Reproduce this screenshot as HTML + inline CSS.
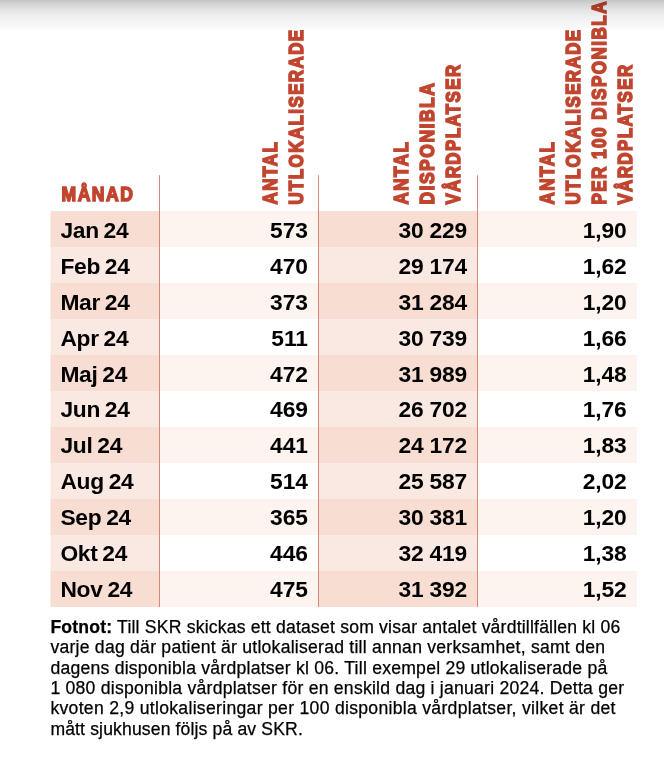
<!DOCTYPE html>
<html lang="sv">
<head>
<meta charset="utf-8">
<title>Utlokaliserade och disponibla vårdplatser 2024</title>
<style>
html,body{margin:0;padding:0;background:#fff;}
body{width:664px;height:762px;position:relative;overflow:hidden;font-family:"Liberation Sans",Arial,sans-serif;color:#000;}
.shade{position:absolute;z-index:5;mix-blend-mode:multiply;left:0;top:0;width:664px;height:30px;background:linear-gradient(to bottom,#c5c5c5 0px,#d6d6d6 5px,#e3e3e3 10px,#eeeeee 16px,#f5f5f5 22px,#fafafa 28.3px,#ffffff 29px);}
.bg{position:absolute;}
.vl{position:absolute;width:1px;background:linear-gradient(to bottom,#e9b9af 0px,#d68778 1px,#d68778 100%);}
.hdsvg{position:absolute;left:0;top:0;overflow:visible;}
.cell{position:absolute;font-weight:bold;font-size:22.8px;line-height:36px;white-space:nowrap;}
.num{text-align:right;}
.foot{position:absolute;-webkit-text-stroke:0.25px #000;left:50.4px;font-size:17.6px;line-height:20px;white-space:nowrap;}
</style>
</head>
<body>
<div class="shade"></div>
<div class="bg" style="left:50.50px;top:211px;width:109.00px;height:36px;background:#f7ddd2"></div>
<div class="bg" style="left:50px;top:211px;width:1px;height:36px;background:#fbeee9"></div>
<div class="bg" style="left:159.50px;top:211px;width:159.00px;height:36px;background:#fdf4ef"></div>
<div class="bg" style="left:318.50px;top:211px;width:159.00px;height:36px;background:#f7ddd2"></div>
<div class="bg" style="left:477.50px;top:211px;width:159.30px;height:36px;background:#fdf4ef"></div>
<div class="bg" style="left:50.50px;top:247px;width:109.00px;height:36px;background:#fae9e2"></div>
<div class="bg" style="left:50px;top:247px;width:1px;height:36px;background:#fdf4f1"></div>
<div class="bg" style="left:318.50px;top:247px;width:159.00px;height:36px;background:#fae9e2"></div>
<div class="bg" style="left:50.50px;top:283px;width:109.00px;height:36px;background:#f7ddd2"></div>
<div class="bg" style="left:50px;top:283px;width:1px;height:36px;background:#fbeee9"></div>
<div class="bg" style="left:159.50px;top:283px;width:159.00px;height:36px;background:#fdf4ef"></div>
<div class="bg" style="left:318.50px;top:283px;width:159.00px;height:36px;background:#f7ddd2"></div>
<div class="bg" style="left:477.50px;top:283px;width:159.30px;height:36px;background:#fdf4ef"></div>
<div class="bg" style="left:50.50px;top:319px;width:109.00px;height:36px;background:#fae9e2"></div>
<div class="bg" style="left:50px;top:319px;width:1px;height:36px;background:#fdf4f1"></div>
<div class="bg" style="left:318.50px;top:319px;width:159.00px;height:36px;background:#fae9e2"></div>
<div class="bg" style="left:50.50px;top:355px;width:109.00px;height:36px;background:#f7ddd2"></div>
<div class="bg" style="left:50px;top:355px;width:1px;height:36px;background:#fbeee9"></div>
<div class="bg" style="left:159.50px;top:355px;width:159.00px;height:36px;background:#fdf4ef"></div>
<div class="bg" style="left:318.50px;top:355px;width:159.00px;height:36px;background:#f7ddd2"></div>
<div class="bg" style="left:477.50px;top:355px;width:159.30px;height:36px;background:#fdf4ef"></div>
<div class="bg" style="left:50.50px;top:391px;width:109.00px;height:36px;background:#fae9e2"></div>
<div class="bg" style="left:50px;top:391px;width:1px;height:36px;background:#fdf4f1"></div>
<div class="bg" style="left:318.50px;top:391px;width:159.00px;height:36px;background:#fae9e2"></div>
<div class="bg" style="left:50.50px;top:427px;width:109.00px;height:36px;background:#f7ddd2"></div>
<div class="bg" style="left:50px;top:427px;width:1px;height:36px;background:#fbeee9"></div>
<div class="bg" style="left:159.50px;top:427px;width:159.00px;height:36px;background:#fdf4ef"></div>
<div class="bg" style="left:318.50px;top:427px;width:159.00px;height:36px;background:#f7ddd2"></div>
<div class="bg" style="left:477.50px;top:427px;width:159.30px;height:36px;background:#fdf4ef"></div>
<div class="bg" style="left:50.50px;top:463px;width:109.00px;height:36px;background:#fae9e2"></div>
<div class="bg" style="left:50px;top:463px;width:1px;height:36px;background:#fdf4f1"></div>
<div class="bg" style="left:318.50px;top:463px;width:159.00px;height:36px;background:#fae9e2"></div>
<div class="bg" style="left:50.50px;top:499px;width:109.00px;height:36px;background:#f7ddd2"></div>
<div class="bg" style="left:50px;top:499px;width:1px;height:36px;background:#fbeee9"></div>
<div class="bg" style="left:159.50px;top:499px;width:159.00px;height:36px;background:#fdf4ef"></div>
<div class="bg" style="left:318.50px;top:499px;width:159.00px;height:36px;background:#f7ddd2"></div>
<div class="bg" style="left:477.50px;top:499px;width:159.30px;height:36px;background:#fdf4ef"></div>
<div class="bg" style="left:50.50px;top:535px;width:109.00px;height:36px;background:#fae9e2"></div>
<div class="bg" style="left:50px;top:535px;width:1px;height:36px;background:#fdf4f1"></div>
<div class="bg" style="left:318.50px;top:535px;width:159.00px;height:36px;background:#fae9e2"></div>
<div class="bg" style="left:50.50px;top:571px;width:109.00px;height:36px;background:#f7ddd2"></div>
<div class="bg" style="left:50px;top:571px;width:1px;height:36px;background:#fbeee9"></div>
<div class="bg" style="left:159.50px;top:571px;width:159.00px;height:36px;background:#fdf4ef"></div>
<div class="bg" style="left:318.50px;top:571px;width:159.00px;height:36px;background:#f7ddd2"></div>
<div class="bg" style="left:477.50px;top:571px;width:159.30px;height:36px;background:#fdf4ef"></div>
<div class="vl" style="left:159px;top:175px;height:431.55px"></div>
<div class="vl" style="left:318px;top:175px;height:431.55px"></div>
<div class="vl" style="left:477px;top:175px;height:431.55px"></div>
<svg class="hdsvg" width="664" height="212" viewBox="0 0 664 212">
<g font-family="Liberation Sans, Arial, sans-serif" font-weight="bold" font-size="19.50" fill="#c1452f" stroke="#c1452f" stroke-width="1.55" stroke-linejoin="miter">
<text transform="translate(61.50 200.75) scale(0.9000 1)" letter-spacing="1.70">MÅNAD</text>
<text transform="translate(277.20 204.60) rotate(-90) scale(0.8761 1)" letter-spacing="1.70">ANTAL</text>
<text transform="translate(303.20 204.60) rotate(-90) scale(0.8658 1)" letter-spacing="1.70">UTLOKALISERADE</text>
<text transform="translate(408.00 204.60) rotate(-90) scale(0.8761 1)" letter-spacing="1.70">ANTAL</text>
<text transform="translate(434.00 204.60) rotate(-90) scale(0.8968 1)" letter-spacing="1.70">DISPONIBLA</text>
<text transform="translate(460.30 204.60) rotate(-90) scale(0.8639 1)" letter-spacing="1.70">VÅRDPLATSER</text>
<text transform="translate(553.80 204.60) rotate(-90) scale(0.8761 1)" letter-spacing="1.70">ANTAL</text>
<text transform="translate(580.00 204.60) rotate(-90) scale(0.8658 1)" letter-spacing="1.70">UTLOKALISERADE</text>
<text transform="translate(606.40 204.60) rotate(-90) scale(0.8740 1)" letter-spacing="1.70">PER 100 DISPONIBLA</text>
<text transform="translate(632.30 204.60) rotate(-90) scale(0.8639 1)" letter-spacing="1.70">VÅRDPLATSER</text>
</g>
</svg>
<div class="cell" style="left:60.4px;top:212.00px;word-spacing:-1.2px;letter-spacing:-0.3px">Jan 24</div>
<div class="cell num" style="right:356.20px;top:212.00px;letter-spacing:-0.10px">573</div>
<div class="cell num" style="right:197.00px;top:212.00px;letter-spacing:-0.20px">30 229</div>
<div class="cell num" style="right:37.30px;top:212.00px;letter-spacing:-0.10px">1,90</div>
<div class="cell" style="left:60.4px;top:248.00px;word-spacing:-1.2px;letter-spacing:-0.3px">Feb 24</div>
<div class="cell num" style="right:356.20px;top:248.00px;letter-spacing:-0.10px">470</div>
<div class="cell num" style="right:197.00px;top:248.00px;letter-spacing:-0.20px">29 174</div>
<div class="cell num" style="right:37.30px;top:248.00px;letter-spacing:-0.10px">1,62</div>
<div class="cell" style="left:60.4px;top:284.00px;word-spacing:-1.2px;letter-spacing:-0.3px">Mar 24</div>
<div class="cell num" style="right:356.20px;top:284.00px;letter-spacing:-0.10px">373</div>
<div class="cell num" style="right:197.00px;top:284.00px;letter-spacing:-0.20px">31 284</div>
<div class="cell num" style="right:37.30px;top:284.00px;letter-spacing:-0.10px">1,20</div>
<div class="cell" style="left:60.4px;top:320.00px;word-spacing:-1.2px;letter-spacing:-0.3px">Apr 24</div>
<div class="cell num" style="right:356.20px;top:320.00px;letter-spacing:-0.10px">511</div>
<div class="cell num" style="right:197.00px;top:320.00px;letter-spacing:-0.20px">30 739</div>
<div class="cell num" style="right:37.30px;top:320.00px;letter-spacing:-0.10px">1,66</div>
<div class="cell" style="left:60.4px;top:356.00px;word-spacing:-1.2px;letter-spacing:-0.3px">Maj 24</div>
<div class="cell num" style="right:356.20px;top:356.00px;letter-spacing:-0.10px">472</div>
<div class="cell num" style="right:197.00px;top:356.00px;letter-spacing:-0.20px">31 989</div>
<div class="cell num" style="right:37.30px;top:356.00px;letter-spacing:-0.10px">1,48</div>
<div class="cell" style="left:60.4px;top:391.00px;word-spacing:-1.2px;letter-spacing:-0.3px">Jun 24</div>
<div class="cell num" style="right:356.20px;top:391.00px;letter-spacing:-0.10px">469</div>
<div class="cell num" style="right:197.00px;top:391.00px;letter-spacing:-0.20px">26 702</div>
<div class="cell num" style="right:37.30px;top:391.00px;letter-spacing:-0.10px">1,76</div>
<div class="cell" style="left:60.4px;top:427.00px;word-spacing:-1.2px;letter-spacing:-0.3px">Jul 24</div>
<div class="cell num" style="right:356.20px;top:427.00px;letter-spacing:-0.10px">441</div>
<div class="cell num" style="right:197.00px;top:427.00px;letter-spacing:-0.20px">24 172</div>
<div class="cell num" style="right:37.30px;top:427.00px;letter-spacing:-0.10px">1,83</div>
<div class="cell" style="left:60.4px;top:463.00px;word-spacing:-1.2px;letter-spacing:-0.3px">Aug 24</div>
<div class="cell num" style="right:356.20px;top:463.00px;letter-spacing:-0.10px">514</div>
<div class="cell num" style="right:197.00px;top:463.00px;letter-spacing:-0.20px">25 587</div>
<div class="cell num" style="right:37.30px;top:463.00px;letter-spacing:-0.10px">2,02</div>
<div class="cell" style="left:60.4px;top:499.00px;word-spacing:-1.2px;letter-spacing:-0.3px">Sep 24</div>
<div class="cell num" style="right:356.20px;top:499.00px;letter-spacing:-0.10px">365</div>
<div class="cell num" style="right:197.00px;top:499.00px;letter-spacing:-0.20px">30 381</div>
<div class="cell num" style="right:37.30px;top:499.00px;letter-spacing:-0.10px">1,20</div>
<div class="cell" style="left:60.4px;top:535.00px;word-spacing:-1.2px;letter-spacing:-0.3px">Okt 24</div>
<div class="cell num" style="right:356.20px;top:535.00px;letter-spacing:-0.10px">446</div>
<div class="cell num" style="right:197.00px;top:535.00px;letter-spacing:-0.20px">32 419</div>
<div class="cell num" style="right:37.30px;top:535.00px;letter-spacing:-0.10px">1,38</div>
<div class="cell" style="left:60.4px;top:571.00px;word-spacing:-1.2px;letter-spacing:-0.3px">Nov 24</div>
<div class="cell num" style="right:356.20px;top:571.00px;letter-spacing:-0.10px">475</div>
<div class="cell num" style="right:197.00px;top:571.00px;letter-spacing:-0.20px">31 392</div>
<div class="cell num" style="right:37.30px;top:571.00px;letter-spacing:-0.10px">1,52</div>
<div class="foot" style="top:616.60px;letter-spacing:0.197px"><b>Fotnot:</b> Till SKR skickas ett dataset som visar antalet vårdtillfällen kl 06</div>
<div class="foot" style="top:636.60px;letter-spacing:0.242px">varje dag där patient är utlokaliserad till annan verksamhet, samt den</div>
<div class="foot" style="top:657.60px;letter-spacing:0.233px">dagens disponibla vårdplatser kl 06. Till exempel 29 utlokaliserade på</div>
<div class="foot" style="top:677.60px;letter-spacing:0.239px">1 080 disponibla vårdplatser för en enskild dag i januari 2024. Detta ger</div>
<div class="foot" style="top:697.60px;letter-spacing:0.296px">kvoten 2,9 utlokaliseringar per 100 disponibla vårdplatser, vilket är det</div>
<div class="foot" style="top:718.60px;letter-spacing:0.133px">mått sjukhusen följs på av SKR.</div>
</body>
</html>
